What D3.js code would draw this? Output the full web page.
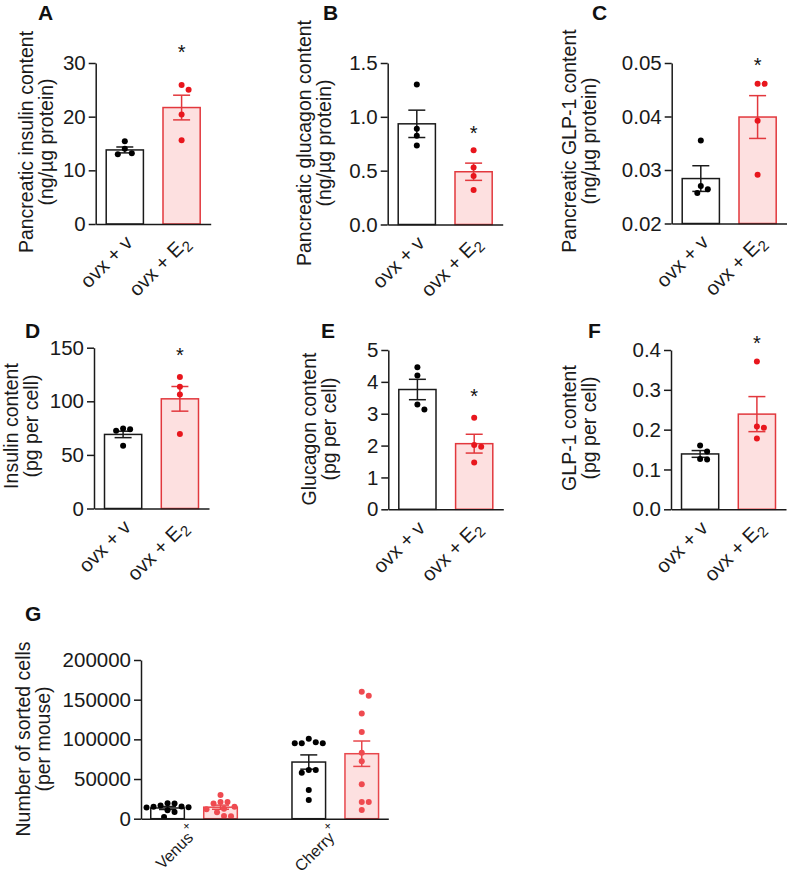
<!DOCTYPE html>
<html><head><meta charset="utf-8">
<script src="https://cdn.jsdelivr.net/npm/d3@7"></script>
<style>
body{margin:0;background:#fff;}
svg{display:block;font-family:"Liberation Sans",Arial,Helvetica,sans-serif;}
</style></head><body>
<svg id="chart" width="787" height="875"></svg>
<script>
// ---------- DATA ----------
const groups = ["ovx + v", "ovx + E2"];

const aTicks = [0, 10, 20, 30];
const aMeans = [13.8, 21.7];
const aSem = [0.55, 2.3];
const aVehicle = [15.4, 14.0, 13.2, 13.0];
const aE2 = [25.9, 25.0, 20.4, 15.6];
const aStar = 32.9;

const bTicks = [0, 0.5, 1.0, 1.5];
const bMeans = [0.935, 0.49];
const bSem = [0.127, 0.08];
const bVehicle = [1.30, 0.89, 0.825, 0.733];
const bE2 = [0.69, 0.53, 0.45, 0.32];
const bStar = 0.894;

const cTicks = [0.02, 0.03, 0.04, 0.05];
const cMeans = [0.0284, 0.0399];
const cSem = [0.0024, 0.004];
const cVehicle = [0.0355, 0.0270, 0.0264, 0.0257];
const cE2 = [0.0461, 0.0461, 0.0392, 0.0291];
const cStar = 0.0505;

const dTicks = [0, 50, 100, 150];
const dMeans = [69.1, 102.3];
const dSem = [3.0, 11.5];
const dVehicle = [74.0, 72.5, 74.7, 58.5];
const dE2 = [122.6, 113.5, 106.4, 69.4];
const dStar = 147.7;

const eTicks = [0, 1, 2, 3, 4, 5];
const eMeans = [3.76, 2.06];
const eSem = [0.32, 0.295];
const eVehicle = [4.46, 4.2, 3.29, 3.13];
const eE2 = [2.87, 2.02, 1.96, 1.47];
const eStar = 3.71;

const fTicks = [0, 0.1, 0.2, 0.3, 0.4];
const fMeans = [0.139, 0.239];
const fSem = [0.0085, 0.044];
const fVehicle = [0.16, 0.145, 0.125, 0.126];
const fE2 = [0.371, 0.2076, 0.205, 0.178];
const fStar = 0.428;

const gCategories = ["Venus", "Cherry"];
const gTicks = [0, 50000, 100000, 150000, 200000];
const gMeansVehicle = [13500, 71400];
const gMeansE2 = [14500, 81900];
const gSemVehicle = [1900, 9000];
const gSemE2 = [2600, 16000];
const gVenusVehicle = [19000, 15000, 14000, 14500, 15500, 16500, 19500, 10500, 8500, 2000];
const gVenusE2 = [30000, 21000, 19000, 21000, 15000, 12500, 12000, 8000, 3500, 3000];
const gCherryVehicle = [96200, 95000, 95000, 95000, 100800, 61300, 57900, 61300, 36100, 23500];
const gCherryE2 = [160000, 154900, 132700, 109200, 83100, 72300, 43300, 21000, 21000, 11000];

// ---------- STYLE ----------
const INK = "#1a1a1a";
const RED_STROKE = "#e2383d";
const RED_FILL = "#fde0e0";
const RED_DOT = "#e8161d";
const RED_DOT_G = "#ef4a50";
const FS = 19.5;
const TICK_FS = 20.5;

const svg = d3.select("#chart");

function swarm(vals, y, cx, d) {
  const placed = [];
  const out = new Array(vals.length);
  const order = vals.map((v, i) => i).sort((a, b) => vals[b] - vals[a]);
  for (const i of order) {
    const py = y(vals[i]);
    let px = cx;
    for (let k = 0; k < 40; k++) {
      const off = k === 0 ? 0 : (Math.ceil(k / 2) * d / 2) * (k % 2 ? 1 : -1);
      const cand = cx + off;
      if (placed.every(p => Math.hypot(p[0] - cand, p[1] - py) >= d - 0.01)) { px = cand; break; }
    }
    placed.push([px, py]);
    out[i] = [px, py];
  }
  return out;
}

function yAxisTitle(g, x, y, lines) {
  const t = g.append("g").attr("transform", `translate(${x},${y}) rotate(-90)`);
  lines.forEach((l, i) => {
    t.append("text").attr("x", 0).attr("y", i * 20).attr("text-anchor", "middle")
      .attr("font-size", FS).attr("fill", INK).text(l);
  });
}

function panelLetter(x, y, s) {
  svg.append("text").attr("x", x).attr("y", y).attr("font-size", 21).attr("font-weight", "bold")
    .attr("fill", "#111").text(s);
}

function drawYAxis(g, y, ax, ticks, fmt) {
  const axis = d3.axisLeft(y).tickValues(ticks).tickFormat(fmt).tickSize(7).tickSizeOuter(0).tickPadding(3);
  const ga = g.append("g").attr("transform", `translate(${ax},0)`).call(axis);
  ga.selectAll("path,line").attr("stroke", INK).attr("stroke-width", 1.5);
  ga.selectAll("text").attr("font-size", TICK_FS).attr("fill", INK).attr("font-family", null);
  return ga;
}

function errorBar(g, cx, y, mean, sem, cap, color) {
  const yt = y(mean + sem), yb = y(mean - sem);
  g.append("line").attr("x1", cx).attr("x2", cx).attr("y1", yt).attr("y2", yb)
    .attr("stroke", color).attr("stroke-width", 1.5);
  [yt, yb].forEach(yy => g.append("line").attr("x1", cx - cap / 2).attr("x2", cx + cap / 2)
    .attr("y1", yy).attr("y2", yy).attr("stroke", color).attr("stroke-width", 1.5));
}

function smallPanel(cfg) {
  const g = svg.append("g");
  const y = d3.scaleLinear().domain(cfg.domain).range([cfg.yBot, cfg.yTop]);
  const x = d3.scaleBand().domain(groups).range([cfg.ax, cfg.ax + 115]).paddingInner(0.345).paddingOuter(0.185);
  const bw = x.bandwidth();
  const base = y(cfg.domain[0]);
  const colors = [{ stroke: INK, fill: "#fff", dot: "#000" }, { stroke: RED_STROKE, fill: RED_FILL, dot: RED_DOT }];

  groups.forEach((grp, i) => {
    g.append("rect").attr("x", x(grp)).attr("y", y(cfg.means[i])).attr("width", bw)
      .attr("height", base - y(cfg.means[i])).attr("fill", colors[i].fill)
      .attr("stroke", colors[i].stroke).attr("stroke-width", 1.5);
  });
  groups.forEach((grp, i) => {
    const cx = x(grp) + bw / 2;
    errorBar(g, cx, y, cfg.means[i], cfg.sem[i], 17, colors[i].stroke);
    swarm(cfg.points[i], y, cx, 7).forEach(p => {
      g.append("circle").attr("cx", p[0]).attr("cy", p[1]).attr("r", 3).attr("fill", colors[i].dot);
    });
  });

  drawYAxis(g, y, cfg.ax, cfg.ticks, cfg.fmt);
  const xa = g.append("g").attr("transform", `translate(0,${base})`)
    .call(d3.axisBottom(x).tickSize(0).tickSizeOuter(0).tickFormat(""));
  xa.selectAll("path").attr("stroke", INK).attr("stroke-width", 1.5);

  groups.forEach((grp, i) => {
    const cx = x(grp) + bw / 2;
    const t = g.append("text").attr("text-anchor", "end").attr("font-size", 20).attr("fill", INK)
      .attr("transform", `translate(${cx + 9},${base + 20}) rotate(-45)`);
    if (grp.endsWith("E2")) {
      t.append("tspan").text(grp.slice(0, -1));
      t.append("tspan").attr("font-size", 15).attr("dy", "0.3em").text("2");
    } else t.text(grp);
  });

  const cx2 = x(groups[1]) + bw / 2;
  g.append("text").attr("x", cx2).attr("y", y(cfg.star) + 11.5).attr("text-anchor", "middle")
    .attr("font-size", 20).attr("fill", "#111").text("*");

  yAxisTitle(g, cfg.tx, cfg.ty, cfg.title);
  panelLetter(cfg.lx, cfg.ly, cfg.letter);
}

const f1 = d3.format(".1f"), f2 = d3.format(".2f"), f0 = d3.format("d");

smallPanel({ letter: "A", lx: 38, ly: 20, ax: 95.7, yTop: 63, yBot: 224, domain: [0, 30], ticks: aTicks, fmt: f0,
  means: aMeans, sem: aSem, points: [aVehicle, aE2], star: aStar,
  title: ["Pancreatic insulin content", "(ng/µg protein)"], tx: 33, ty: 142 });
smallPanel({ letter: "B", lx: 323, ly: 20, ax: 387.7, yTop: 63, yBot: 224.5, domain: [0, 1.5], ticks: bTicks, fmt: f1,
  means: bMeans, sem: bSem, points: [bVehicle, bE2], star: bStar,
  title: ["Pancreatic glucagon content", "(ng/µg protein)"], tx: 311, ty: 143 });
smallPanel({ letter: "C", lx: 592, ly: 20, ax: 671.7, yTop: 63, yBot: 223.5, domain: [0.02, 0.05], ticks: cTicks, fmt: f2,
  means: cMeans, sem: cSem, points: [cVehicle, cE2], star: cStar,
  title: ["Pancreatic GLP-1 content", "(ng/µg protein)"], tx: 576, ty: 141 });
smallPanel({ letter: "D", lx: 25, ly: 338, ax: 94, yTop: 347.7, yBot: 508.5, domain: [0, 150], ticks: dTicks, fmt: f0,
  means: dMeans, sem: dSem, points: [dVehicle, dE2], star: dStar,
  title: ["Insulin content", "(pg per cell)"], tx: 18, ty: 426 });
smallPanel({ letter: "E", lx: 321, ly: 338, ax: 388.3, yTop: 350, yBot: 509.3, domain: [0, 5], ticks: eTicks, fmt: f0,
  means: eMeans, sem: eSem, points: [eVehicle, eE2], star: eStar,
  title: ["Glucagon content", "(pg per cell)"], tx: 316, ty: 429 });
smallPanel({ letter: "F", lx: 588, ly: 338, ax: 671, yTop: 350, yBot: 509.3, domain: [0, 0.4], ticks: fTicks, fmt: f1,
  means: fMeans, sem: fSem, points: [fVehicle, fE2], star: fStar,
  title: ["GLP-1 content", "(pg per cell)"], tx: 576, ty: 428 });

// ---------- PANEL G ----------
(function () {
  const g = svg.append("g");
  const ax = 141, yBot = 818.7, yTop = 660;
  const y = d3.scaleLinear().domain([0, 200000]).range([yBot, yTop]);
  const x0 = d3.scaleBand().domain(gCategories).range([ax, 388.3]).paddingInner(0.387).paddingOuter(0.069);
  const x1 = d3.scaleBand().domain(groups).range([0, x0.bandwidth()]).paddingInner(0.366).paddingOuter(0);
  const bw = x1.bandwidth();
  const means = [gMeansVehicle, gMeansE2];
  const sems = [gSemVehicle, gSemE2];
  const pts = { Venus: [gVenusVehicle, gVenusE2], Cherry: [gCherryVehicle, gCherryE2] };
  const colors = [{ stroke: INK, fill: "#fff", dot: "#000" }, { stroke: "#e8474c", fill: RED_FILL, dot: RED_DOT_G }];

  gCategories.forEach((cat, ci) => {
    groups.forEach((grp, si) => {
      const bx = x0(cat) + x1(grp);
      g.append("rect").attr("x", bx).attr("y", y(means[si][ci])).attr("width", bw)
        .attr("height", yBot - y(means[si][ci])).attr("fill", colors[si].fill)
        .attr("stroke", colors[si].stroke).attr("stroke-width", 1.5);
    });
  });
  gCategories.forEach((cat, ci) => {
    groups.forEach((grp, si) => {
      const cx = x0(cat) + x1(grp) + bw / 2;
      errorBar(g, cx, y, means[si][ci], sems[si][ci], 17, colors[si].stroke);
      swarm(pts[cat][si], y, cx, 7).forEach(p => {
        g.append("circle").attr("cx", p[0]).attr("cy", p[1]).attr("r", 3).attr("fill", colors[si].dot);
      });
    });
  });

  drawYAxis(g, y, ax, gTicks, f0);
  const xa = g.append("g").attr("transform", `translate(0,${yBot})`)
    .call(d3.axisBottom(x0).tickSize(0).tickSizeOuter(0).tickFormat(""));
  xa.selectAll("path").attr("stroke", INK).attr("stroke-width", 1.5);

  gCategories.forEach(cat => {
    const cx = x0(cat) + x0.bandwidth() / 2;
    const t = g.append("text").attr("text-anchor", "end").attr("font-size", 16).attr("fill", INK)
      .attr("transform", `translate(${cx + 5},${yBot + 15}) rotate(-45)`);
    t.append("tspan").text(cat);
    t.append("tspan").attr("font-size", 12).attr("dy", "-0.85em").text("+");
  });

  yAxisTitle(g, 30, 739, ["Number of sorted cells", "(per mouse)"]);
  panelLetter(25, 621, "G");
})();
</script>
</body></html>
